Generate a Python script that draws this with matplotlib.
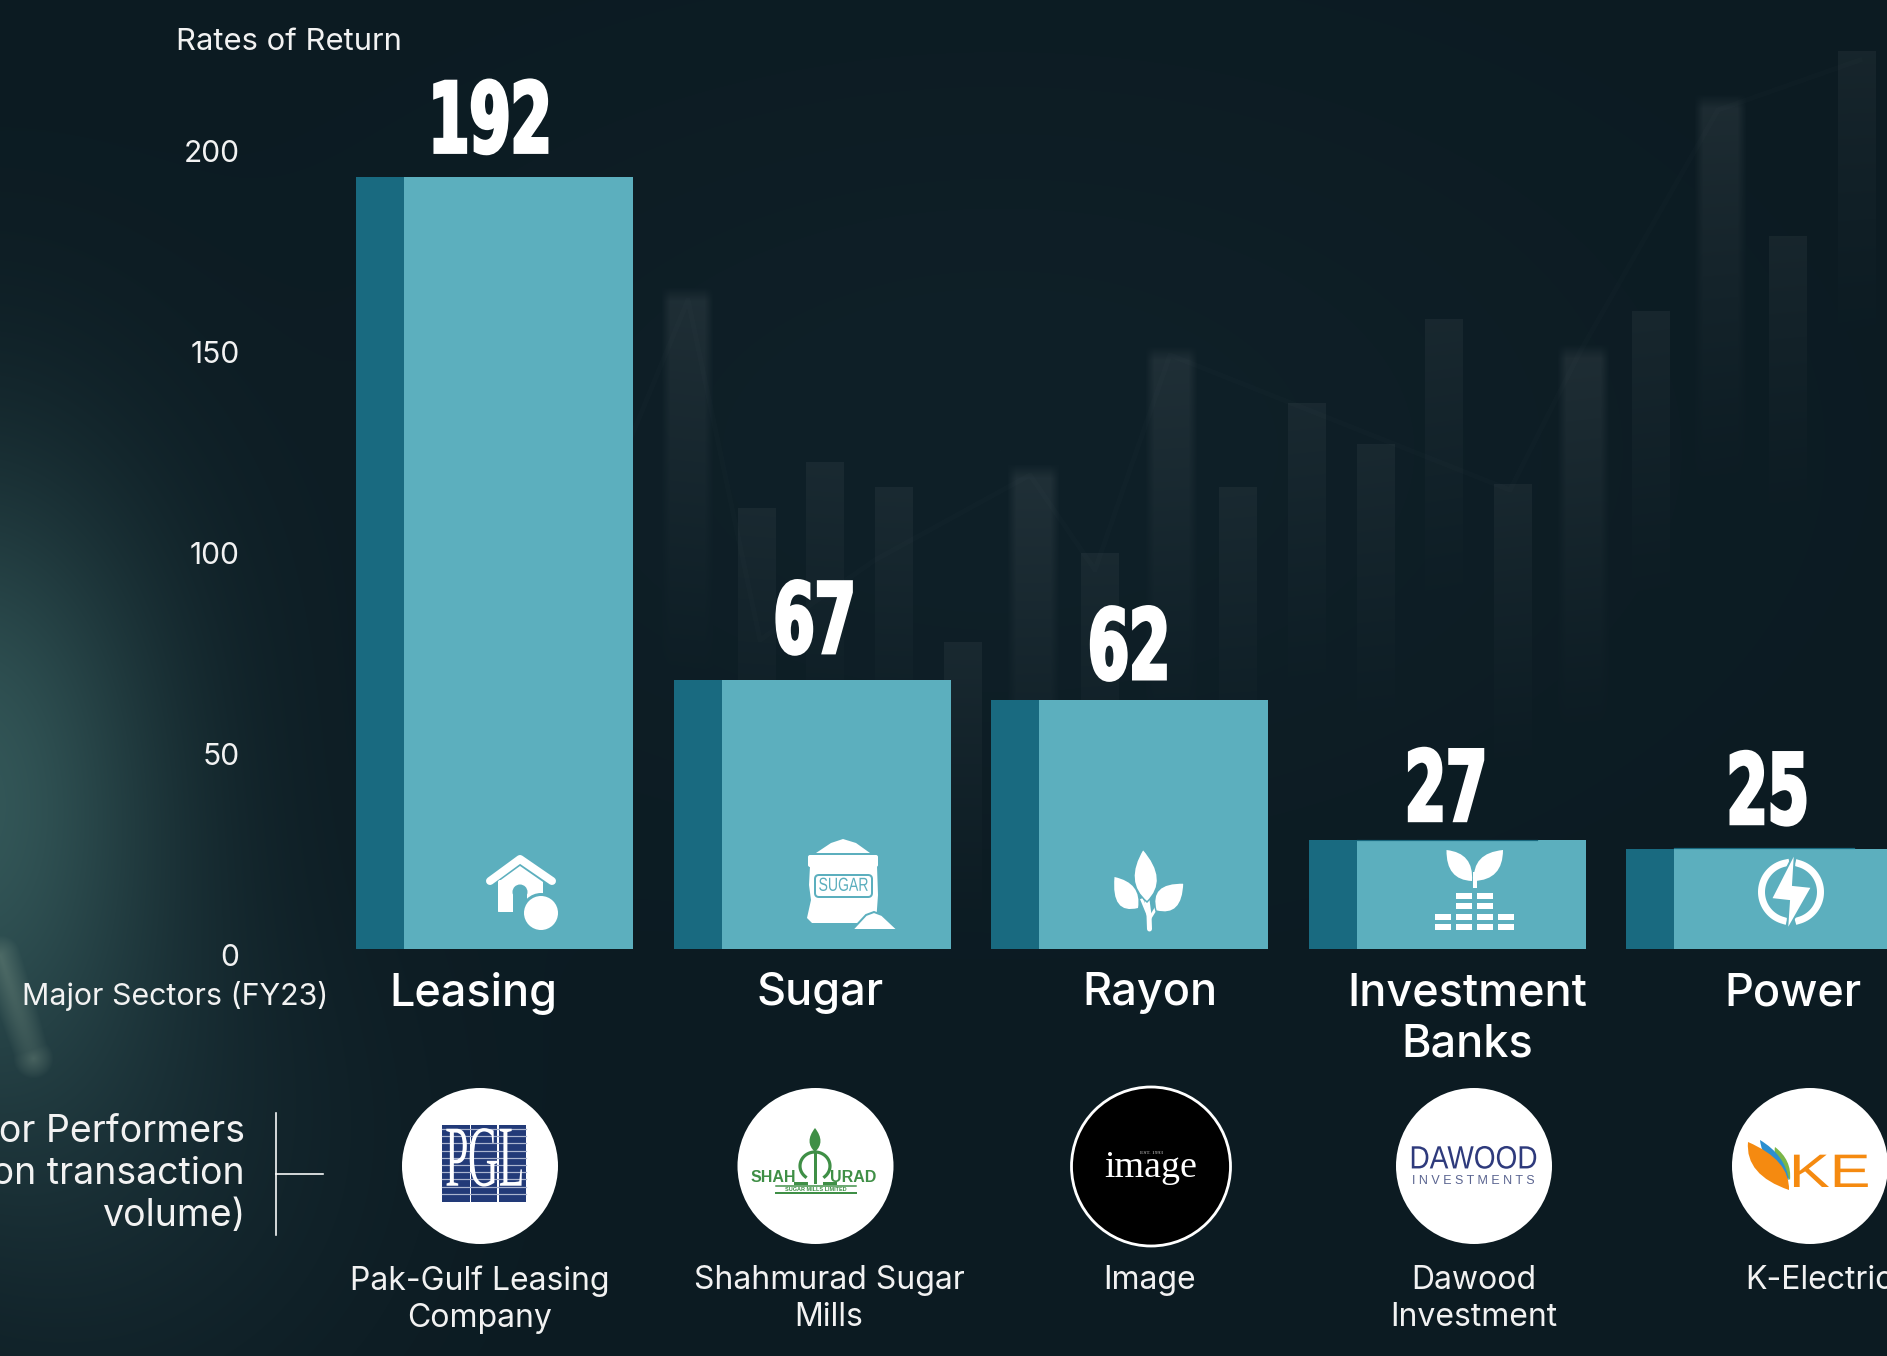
import numpy as np
import matplotlib
matplotlib.use("Agg")
import matplotlib.pyplot as plt
from matplotlib.patches import Circle, Polygon, FancyBboxPatch, PathPatch, Rectangle
from matplotlib.path import Path
from matplotlib.patheffects import AbstractPathEffect
from matplotlib.transforms import Affine2D

# ---------- data ----------
categories = ["Leasing", "Sugar", "Rayon", "Investment\nBanks", "Power"]
rates = [192, 67, 62, 27, 25]
y_ticks = [0, 50, 100, 150, 200]
companies = ["Pak-Gulf Leasing\nCompany", "Shahmurad Sugar\nMills", "Image",
             "Dawood\nInvestment", "K-Electric"]
# backdrop: decorative candles (left px, top px, strength)
bg_left = [666, 738, 806, 875, 944, 1012, 1081, 1150, 1219, 1288, 1357, 1425, 1494, 1562, 1632, 1699, 1769, 1838]
bg_top = [293, 508, 462, 487, 642, 470, 553, 352, 487, 403, 444, 319, 484, 350, 311, 100, 236, 51]
bg_glow = [1, 0, 0, 0, 0, 1, 0, 1, 0, 0, 0, 0, 0, 1, 0, 1, 0, 0]
bg_line_x = [630, 688, 760, 875, 1030, 1095, 1170, 1510, 1581, 1718, 1860]
bg_line_y = [440, 300, 640, 560, 475, 570, 355, 490, 350, 110, 60]

# ---------- layout ----------
W, H = 1887, 1356
BASE_PX, PX_PER_UNIT = 949.0, 4.02
STEP, BAR_W, DARK_W, FIRST_CENTER = 317.5, 277.0, 48.0, 494.5
AX_LEFT = 245
LIGHT, DARK, TEXT = "#5cafbe", "#196a80", "#ffffff"
label_dx = [-5, 3, 0, -1, 3]
label_gap = [23, 25, 19, 18, 23]
cat_dx = [-21, 8, 20, 20, 28]
logo_x = [480, 815.5, 1151, 1474, 1810]
name_x = [479.5, 829, 1150, 1473.6, 1819]
FONT = "Inter"
px = lambda p: p * 0.72


class Stretch(AbstractPathEffect):
    """Squeeze a text run around its own centre, with an optional outline."""
    def __init__(self, sx=1.0, sy=1.0, stroke=0.0):
        super().__init__()
        self.sx, self.sy, self.stroke = sx, sy, stroke

    def draw_path(self, renderer, gc, tpath, affine, rgbFace=None):
        ext = tpath.get_extents(affine)
        cx, cy = (ext.x0 + ext.x1) / 2, (ext.y0 + ext.y1) / 2
        aff = affine + Affine2D().translate(-cx, -cy).scale(self.sx, self.sy).translate(cx, cy)
        if self.stroke:
            g = renderer.new_gc()
            g.copy_properties(gc)
            g.set_linewidth(self.stroke)
            g.set_foreground(rgbFace)
            g.set_joinstyle("miter")
            renderer.draw_path(g, tpath, aff, rgbFace)
            g.restore()
        else:
            renderer.draw_path(gc, tpath, aff, rgbFace)


fig = plt.figure(figsize=(W / 100, H / 100), dpi=100)

# ---------- backdrop ----------
yy, xx = np.mgrid[0:H, 0:W].astype(float)
img = np.zeros((H, W, 3))
img[..., 0], img[..., 1], img[..., 2] = 12, 27, 34
centre = np.exp(-((xx - 1000) / 650) ** 2 - ((yy - 450) / 380) ** 2)
img += centre[..., None] * np.array([3, 5, 6])
g = np.exp(-((xx + 30) / 200) ** 2 - ((yy - 790) / 320) ** 2)
img += g[..., None] * np.array([38, 58, 52])
g2 = np.exp(-((xx - 120) / 260) ** 2 - ((yy - 1150) / 260) ** 2)
img += g2[..., None] * np.array([8, 12, 12])
# streak at lower left
t = np.clip((xx * 0.35 + (yy - 955)) / 105, 0, 1)
dist = np.hypot(xx - 33 * t, yy - (955 + 103 * t))
streak = np.clip(1 - dist / 20, 0, 1) ** 0.9
img = img * (1 - 0.38 * streak[..., None]) + np.array([130, 155, 140]) * 0.38 * streak[..., None]

alpha = np.zeros((H, W))
for left, top, glow in zip(bg_left, bg_top, bg_glow):
    w = 38 if not glow else 42
    fade = np.clip(1 - (yy - top) / (380 if glow else 280), 0, 1) ** 1.2
    if glow:
        edge = np.clip((w / 2 + 5 - np.abs(xx - left - w / 2)) / 9, 0, 1) * np.clip((yy - top + 6) / 14, 0, 1)
        a = 0.072 * edge * fade
    else:
        edge = ((xx >= left) & (xx < left + w) & (yy >= top)).astype(float)
        a = 0.045 * edge * fade
    alpha = np.maximum(alpha, a)
img = img * (1 - alpha[..., None]) + 255 * alpha[..., None]
bg = fig.add_axes([0, 0, 1, 1], zorder=0)
bg.imshow(np.clip(img, 0, 255).astype(np.uint8), extent=(0, W, H, 0), aspect="auto", interpolation="bilinear")
bg.plot(bg_line_x, bg_line_y, color="white", alpha=0.012, lw=px(5))
bg.set_xlim(0, W); bg.set_ylim(H, 0); bg.axis("off")

# ---------- chart ----------
ax = fig.add_axes([AX_LEFT / W, (H - BASE_PX) / H, (W - AX_LEFT) / W, BASE_PX / H], zorder=1)
ax.patch.set_alpha(0)
pos = np.arange(len(rates))
ax.bar(pos, rates, width=BAR_W / STEP, color=LIGHT, linewidth=0)
ax.bar(pos - BAR_W / STEP / 2, rates, width=DARK_W / STEP, align="edge", color=DARK, linewidth=0)
ax.set_xlim((AX_LEFT - FIRST_CENTER) / STEP, (W - FIRST_CENTER) / STEP)
ax.set_ylim(0, BASE_PX / PX_PER_UNIT)
for s in ax.spines.values():
    s.set_visible(False)
ax.set_yticks(y_ticks, [str(v) for v in y_ticks], fontsize=px(30), color="#f2f2f2", family=FONT)
ax.set_xticks(pos, categories, fontsize=px(45), color=TEXT, family=FONT, weight=500, linespacing=1.3)
ax.tick_params(axis="both", length=0)
ax.tick_params(axis="y", pad=px(5.5))
ax.tick_params(axis="x", pad=px(23))
for lab in ax.get_yticklabels():
    lab.set_transform(lab.get_transform() + Affine2D().translate(0, -6))
for lab, dx in zip(ax.get_xticklabels(), cat_dx):
    lab.set_transform(lab.get_transform() + Affine2D().translate(dx, 0))
for i, v in enumerate(rates):
    ax.annotate(str(v), (i, v), xytext=(px(label_dx[i]), px(label_gap[i] + 2)), textcoords="offset points",
                ha="center", va="baseline", fontsize=px(97), color=TEXT, annotation_clip=False,
                family="DejaVu Sans", weight="bold",
                path_effects=[Stretch(sx=0.61, stroke=px(3.5))])

# ---------- pixel overlay: captions, icons, logos ----------
o = fig.add_axes([0, 0, 1, 1], zorder=2)
o.patch.set_alpha(0)
o.set_xlim(0, W); o.set_ylim(H, 0); o.axis("off")


def T(x, y, s, size, color=TEXT, ha="center", va="center", **kw):
    kw.setdefault("family", FONT)
    return o.text(x, y, s, fontsize=px(size), color=color, ha=ha, va=va, **kw)


T(176, 42, "Rates of Return", 31, ha="left", color="#f2f2f2")
T(22, 996, "Major Sectors (FY23)", 30.4, ha="left", color="#f2f2f2")
T(245, 1173.5, "Major Performers\n(based on transaction\nvolume)", 37.5, ha="right", linespacing=1.22, color="#f2f2f2")
o.plot([276, 276], [1113, 1235], color="white", lw=px(1.6))
o.plot([276, 323], [1174, 1174], color="white", lw=px(1.6))
for x, name in zip(name_x, companies):
    T(x, 1265, name, 32, va="top", linespacing=1.27, color="#f2f2f2")
o.plot([1357, 1537], [839.5, 839.5], color=DARK, lw=px(1.2))
o.plot([1674, 1854], [847.5, 847.5], color=DARK, lw=px(1.2))


def poly(pts, fc="white", ec="none", lw=0, z=3):
    o.add_patch(Polygon(pts, closed=True, fc=fc, ec=ec, lw=lw, zorder=z))


def leaf(tip, base, bulge_a, bulge_b, fc="white", ec="none", lw=0, z=3):
    verts = [tip, bulge_a, base, bulge_b, tip]
    codes = [Path.MOVETO, Path.CURVE3, Path.CURVE3, Path.CURVE3, Path.CURVE3]
    o.add_patch(PathPatch(Path(verts, codes), fc=fc, ec=ec, lw=lw, zorder=z))


# house
poly([(498, 882), (520, 866), (543, 882), (543, 898), (498, 912)], z=3)
o.add_patch(FancyBboxPatch((498, 880), 26, 32, boxstyle="round,pad=0,rounding_size=2", fc="white", ec="none", zorder=3))
o.plot([490, 520, 552], [881, 859, 881], color="white", lw=px(8), solid_capstyle="round", solid_joinstyle="round", zorder=3)
o.add_patch(Rectangle((513, 892), 14, 22, fc=LIGHT, ec="none", zorder=4))
o.add_patch(Circle((520, 892), 7.5, fc=LIGHT, ec="none", zorder=4))
poly([(527, 882), (543, 882), (543, 900), (527, 900)], z=3)
o.add_patch(Circle((541, 913), 20, fc=LIGHT, ec="none", zorder=5))
o.add_patch(Circle((541, 913), 17, fc="white", ec="none", zorder=6))

# sugar sack
poly([(816, 853), (831, 843), (843, 839), (856, 843), (870, 853)])
o.add_patch(FancyBboxPatch((808, 855), 70, 12, boxstyle="round,pad=0,rounding_size=2", fc="white", ec="none", zorder=3))
poly([(810, 866), (877, 866), (878, 895), (876, 923), (812, 923), (807, 918), (811, 900), (809, 885)])
o.add_patch(FancyBboxPatch((815, 875), 57, 22, boxstyle="round,pad=0,rounding_size=4", fc="none", ec=LIGHT, lw=px(2), zorder=4))
T(843.5, 886, "SUGAR", 18, color=LIGHT, family="Liberation Sans", zorder=5, path_effects=[Stretch(sx=0.78, sy=1.05)])
o.add_patch(Polygon([(852, 930), (866, 915), (874, 912), (882, 915), (898, 930)], closed=True, fc="white", ec=LIGHT, lw=px(2), zorder=5))

# plant with three leaves
o.plot([1147, 1149, 1149.5], [900, 915, 929], color="white", lw=px(5), solid_capstyle="round", zorder=3)
o.plot([1142, 1149], [900, 917], color="white", lw=px(3), zorder=3)
o.plot([1158, 1150], [905, 918], color="white", lw=px(3), zorder=3)
leaf((1143, 849), (1147, 902), (1123, 882), (1170, 880), ec=LIGHT, lw=px(1.5), z=4)
leaf((1114.5, 877), (1138, 908), (1111, 915), (1142, 883), z=3)
leaf((1184, 883), (1156, 911), (1183, 918), (1148, 882), ec=LIGHT, lw=px(1.5), z=5)

# seedling on bricks
leaf((1446.5, 850), (1472, 881), (1446, 880), (1474, 853))
leaf((1503, 850), (1474, 881), (1503, 880), (1472, 853))
o.add_patch(Rectangle((1472.5, 872), 4.5, 16, fc="white", ec=LIGHT, lw=0, zorder=5))
rows = [(892.7, (1, 2)), (903, (1, 2)), (913.7, (0, 1, 2, 3)), (924, (0, 1, 2, 3))]
cols = [1435, 1456, 1477, 1498]
for y, use in rows:
    for c in use:
        o.add_patch(Rectangle((cols[c], y), 16, 5.8, fc="white", ec="none", zorder=3))

# power bolt
th = np.linspace(np.radians(100), np.radians(255), 40)
o.plot(1791 + 29.5 * np.cos(th), 892 - 29.5 * np.sin(th), color="white", lw=px(7), zorder=3)
th = np.linspace(np.radians(-75), np.radians(75), 40)
o.plot(1791 + 29.5 * np.cos(th), 892 - 29.5 * np.sin(th), color="white", lw=px(7), zorder=3)
poly([(1795, 852), (1771, 899), (1789, 901), (1787, 931), (1812, 887), (1793, 885)], ec=LIGHT, lw=px(2), z=4)

# logos
for i, x in enumerate(logo_x):
    if i == 2:
        o.add_patch(Circle((x, 1166.5), 79.5, fc="black", ec="white", lw=px(2.8), zorder=3))
    else:
        o.add_patch(Circle((x, 1166), 78, fc="white", ec="none", zorder=3))

# PGL
navy = "#223a78"
for x0, x1 in [(442, 470), (471, 497), (499, 526)]:
    o.add_patch(Rectangle((x0, 1125), x1 - x0, 77, fc=navy, ec="none", zorder=4))
for y in np.arange(1129, 1200, 7.2):
    o.plot([442, 526], [y, y], color="#aab4cf", lw=px(1.2), zorder=4)
for x, ch in zip([457, 483, 512], "PGL"):
    o.text(x, 1163, ch, fontsize=px(68), color="white", family="Liberation Serif", ha="center", va="center",
           zorder=5, path_effects=[Stretch(sx=0.62, sy=1.28)])

# Shahmurad
green = "#3f8f46"
T(773, 1177, "SHAH", 16, color=green, family="Liberation Sans", weight="bold", zorder=4)
T(853, 1177, "URAD", 16, color=green, family="Liberation Sans", weight="bold", zorder=4)
th = np.linspace(np.radians(-50), np.radians(230), 40)
o.plot(815 + 15 * np.cos(th), 1166 - 14 * np.sin(th), color=green, lw=px(3.2), zorder=4)
o.plot([815, 815], [1153, 1182], color=green, lw=px(3), zorder=4)
o.plot([795, 806], [1183, 1183], color=green, lw=px(3), zorder=4)
o.plot([824, 835], [1183, 1183], color=green, lw=px(3), zorder=4)
leaf((815, 1128), (815, 1152), (804, 1142), (826, 1142), fc=green, z=4)
o.plot([776, 856], [1186, 1186], color=green, lw=px(1.5), zorder=4)
o.plot([776, 856], [1193, 1193], color=green, lw=px(2), zorder=4)
T(816, 1189.5, "SUGAR MILLS LIMITED", 5.5, color=green, family="Liberation Sans", weight="bold", zorder=4)

# Image
T(1151, 1168, "image", 38, family="Liberation Serif", zorder=4)
T(1151, 1153, "EST. 1993", 5.5, color="#cccccc", family="Liberation Serif", zorder=4)

# Dawood
T(1473.5, 1160, "DAWOOD", 28, color="#2e3a7c", family="Liberation Sans", zorder=4,
  path_effects=[Stretch(sx=1.0, sy=1.15)])
T(1473.5, 1181, "I N V E S T M E N T S", 12.5, color="#5a6490", family="Liberation Sans", zorder=4)

# K-Electric
orange = "#f58a10"
T(1830, 1175, "KE", 47, color=orange, family="Liberation Sans", zorder=4,
  path_effects=[Stretch(sx=1.3, sy=1.0)])
leaf((1748, 1142), (1789, 1190), (1745, 1175), (1790, 1160), fc=orange, z=4)
leaf((1760, 1140), (1789, 1180), (1762, 1162), (1785, 1155), fc="#2b8fd0", z=3.5)
leaf((1775, 1147), (1790, 1180), (1772, 1160), (1792, 1160), fc="#7ab648", z=3.2)

fig.savefig("out.png", dpi=100)
